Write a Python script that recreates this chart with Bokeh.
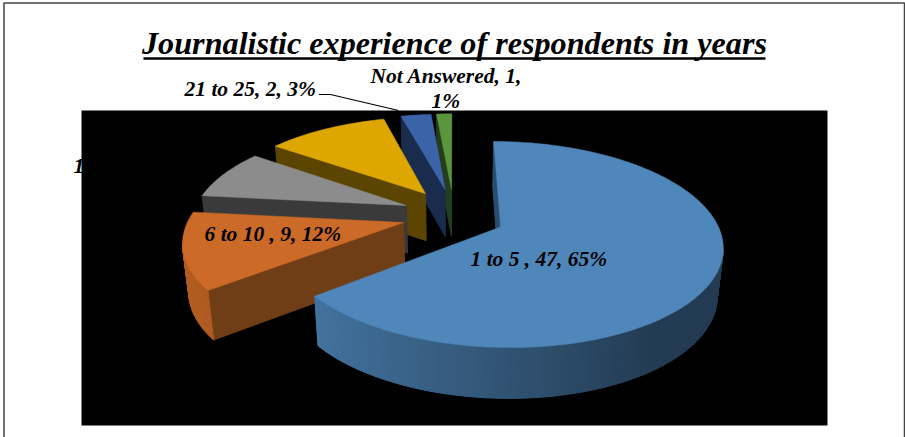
import math
from bokeh.core.properties import value
from bokeh.embed import file_html
from bokeh.models import ColumnDataSource, Range1d
from bokeh.plotting import figure
from bokeh.resources import INLINE

categories = ["1 to 5", "6 to 10", "11 to 15", "16 to 20", "21 to 25", "Not Answered"]
counts = [47, 9, 6, 8, 2, 1]
top_colors = ["#4f87ba", "#cc6a27", "#8c8c8c", "#dda600", "#3a63a8", "#5a963c"]
wall_colors = ["#2c4d6e", "#6f3d16", "#3a3a3a", "#5c4500", "#1a2c4e", "#243d1c"]
title_text = "Journalistic experience of respondents in years"
label_texts = ["1 to 5 , 47, 65%", "6 to 10 , 9, 12%", "11 to 15, 6, 8%",
               "21 to 25, 2, 3%", "Not Answered, 1,", "1%"]

W, H = 905, 437
# Camera model of the tilted, exploded pie
CX, CY, RX, RY, PERSP = 453.0, 214.5, 213.5, 96.0, 0.167
EXPLODE_X, EXPLODE_Y = 0.24, 0.28
START_DEG = 0.0
SHRINK, DROP, DROP_SLOPE = 0.977, 47.5, 0.025


def project(wx, wy):
    d = 1 - PERSP * wy
    return CX + RX * wx / d, CY + RY * wy / d


def lower(pt):
    return CX + (pt[0] - CX) * SHRINK, pt[1] + DROP + DROP_SLOPE * (pt[1] - CY)


def shade(hex_color, f):
    rgb = [int(hex_color[i:i + 2], 16) for i in (1, 3, 5)]
    return "#%02x%02x%02x" % tuple(min(255, int(c * f)) for c in rgb)


def slice_faces(start, sweep, top, wall):
    mid = math.radians(start + sweep / 2)
    ox, oy = EXPLODE_X * math.sin(mid), -EXPLODE_Y * math.cos(mid)
    steps = max(6, int(sweep))
    apex = project(ox, oy)
    arc = []
    normals = []
    for i in range(steps + 1):
        a = math.radians(start + sweep * i / steps)
        arc.append(project(ox + math.sin(a), oy - math.cos(a)))
        normals.append(math.sin(a))
    faces = []

    def side(a, b, color):
        if b[0] < a[0]:
            la, lb = lower(a), lower(b)
            faces.append(([a[0], b[0], lb[0], la[0]], [a[1], b[1], lb[1], la[1]], color, 1.0))

    side(apex, arc[0], wall)
    side(arc[-1], apex, wall)
    for i in range(steps):
        f = max(0.45, min(0.88, 0.62 - 0.3 * (normals[i] + normals[i + 1]) / 2))
        side(arc[i], arc[i + 1], shade(top, f))
    faces.append(([apex[0]] + [p[0] for p in arc], [apex[1]] + [p[1] for p in arc], top, 0.5))
    return faces


total = sum(counts)
layers = []
angle = START_DEG
for n, top, wall in zip(counts, top_colors, wall_colors):
    sweep = 360.0 * n / total
    layers.append(slice_faces(angle, sweep, top, wall))
    angle += sweep

# Painted from the far slice to the nearest one
faces = [face for layer in reversed(layers) for face in layer]
source = ColumnDataSource(dict(xs=[f[0] for f in faces], ys=[f[1] for f in faces],
                               color=[f[2] for f in faces], lw=[f[3] for f in faces]))

p = figure(width=W, height=H, output_backend="svg", toolbar_location=None,
           x_range=Range1d(0, W), y_range=Range1d(H, 0), min_border=0,
           background_fill_color="white", border_fill_color="white", outline_line_color=None)
p.axis.visible = False
p.grid.visible = False

# Chart frame and the black plot area
p.quad(left=[3.5], right=[904], top=[2.5], bottom=[445], fill_color=None,
       line_color="#444444", line_width=1.5)
p.quad(left=[81], right=[827], top=[110], bottom=[425], fill_color="black", line_color=None)

p.patches("xs", "ys", source=source, fill_color="color", line_color="color", line_width="lw")

serif = value("Liberation Serif")
p.text(x=[454], y=[42], text=[title_text], text_font=serif, text_font_style="bold italic",
       text_font_size="32.2px", text_align="center", text_baseline="middle", text_color="black")
p.segment(x0=[143], x1=[765], y0=[58], y1=[58], line_color="black", line_width=2.5)

p.line(x=[318.5, 330, 398], y=[94, 94, 110], line_color="black", line_width=1.2)

label_x = [470, 204, 73, 184, 370, 431]
label_y = [258, 233, 165, 88, 75, 100]
p.text(x=label_x, y=label_y, text=label_texts, text_font=serif, text_font_style="bold italic",
       text_font_size="21.5px", text_align="left", text_baseline="middle", text_color="black")

open("out.html", "w").write(file_html(p, INLINE))
